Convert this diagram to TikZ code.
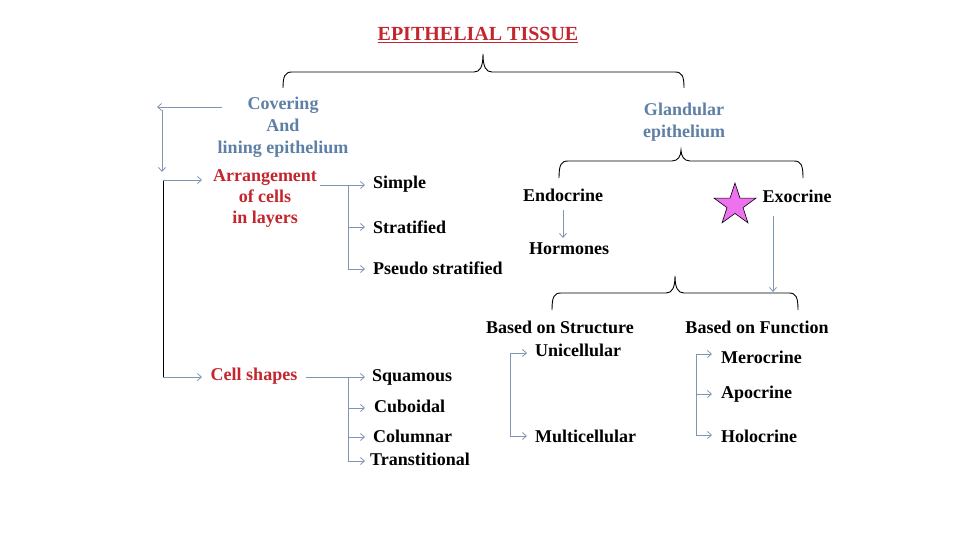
\documentclass[tikz,border=0pt]{standalone}
\usepackage{fontspec}
\setmainfont{Liberation Serif}
\usetikzlibrary{arrows.meta,shapes.geometric}
\definecolor{bluetxt}{HTML}{5F80A6}
\definecolor{arrc}{HTML}{7D97B3}
\definecolor{redtxt}{HTML}{C3262E}
\definecolor{starc}{HTML}{EE72EE}
\newcommand\cbrace[6]{%
 \draw[br] (#1,#4) .. controls (#1,#5+4) and (#1+2,#5) .. (#1+9,#5) -- (#2-9,#5)
  .. controls (#2-3,#5) and (#2,#5-5) .. (#2,#6)
  .. controls (#2,#5-5) and (#2+3,#5) .. (#2+9,#5) -- (#3-9,#5)
  .. controls (#3-2,#5) and (#3,#5+4) .. (#3,#4);}
\begin{document}
\begin{tikzpicture}[x=1pt,y=-1pt,
  txt/.style={font=\fontsize{18}{21}\selectfont\bfseries, inner sep=0pt},
  lt/.style={txt, anchor=west},
  ar/.style={draw=arrc, line width=0.8pt, -{Straight Barb[length=4pt,width=7pt]}},
  ln/.style={draw=arrc, line width=0.8pt},
  br/.style={draw=black, line width=0.9pt}]
\useasboundingbox[fill=white] (0,0) rectangle (960,540);
% texts
\node[txt,text=redtxt,font=\fontsize{20}{22}\selectfont\bfseries] (title) at (478,35) {\underline{EPITHELIAL TISSUE}};
\node[txt,text=bluetxt,align=center,font=\fontsize{18}{22}\selectfont\bfseries] (cov) at (283,127) {Covering\\And\\lining epithelium};
\node[txt,text=bluetxt,align=center,font=\fontsize{18}{22}\selectfont\bfseries] (gla) at (684,122) {Glandular\\epithelium};
\node[txt,text=redtxt,align=center] (arrg) at (265,199) {Arrangement\\of cells\\in layers};
\node[lt] (simple) at (373,184) {Simple};
\node[lt] (strat) at (373,227) {Stratified};
\node[lt] (pseudo) at (373,268) {Pseudo stratified};
\node[txt,text=redtxt] (cells) at (254,376) {Cell shapes};
\node[lt] (squ) at (372,377) {Squamous};
\node[lt] (cub) at (374,406) {Cuboidal};
\node[lt] (col) at (373,436) {Columnar};
\node[lt] (tra) at (370,459) {Transtitional};
\node[txt] (endo) at (563,195) {Endocrine};
\node[txt] (exo) at (797,196) {Exocrine};
\node[star,star points=5,star point ratio=2.6,minimum size=44pt,fill=starc,draw=black,line width=0.6pt,inner sep=0pt] (star) at (735,205) {};
\node[txt] (horm) at (569,249) {Hormones};
\node[txt] (bstr) at (560,327) {Based on Structure};
\node[txt] (bfun) at (757,327) {Based on Function};
\node[lt] (uni) at (535,350) {Unicellular};
\node[lt] (mul) at (535,436) {Multicellular};
\node[lt] (mer) at (721,357) {Merocrine};
\node[lt] (apo) at (721,394) {Apocrine};
\node[lt] (hol) at (721,436) {Holocrine};
% braces
\cbrace{283}{483}{684}{88}{72}{54}
\cbrace{559}{681}{803}{178}{161}{150}
\cbrace{552}{675}{798}{310}{293}{276}
% left side connectors
\coordinate (c1) at (222,107); \coordinate (c2) at (157,107);
\draw[ar] (c1) -- (c2);
\coordinate (v1) at (162,110); \coordinate (v2) at (162,172);
\draw[ar] (v1) -- (v2);
\coordinate (b1) at (163,180); \coordinate (b2) at (163,377);
\coordinate (b1e) at (202,180); \coordinate (b2e) at (202,377);
\draw[br] (b1) -- (b2);
\draw[ar] (b1) -- (b1e);
\draw[ar] (b2) -- (b2e);
% arrangement branch
\coordinate (a0) at (320,185); \coordinate (a1) at (348,185); \coordinate (a2) at (348,227); \coordinate (a3) at (348,269);
\coordinate (a1e) at (365,185); \coordinate (a2e) at (365,227); \coordinate (a3e) at (365,269);
\draw[ar] (a0) -- (a1e);
\draw[ln] (a1) -- (a3);
\draw[ar] (a2) -- (a2e);
\draw[ar] (a3) -- (a3e);
% cell shapes branch
\coordinate (s0) at (306,377); \coordinate (s1) at (348,377); \coordinate (s2) at (348,408); \coordinate (s3) at (348,437); \coordinate (s4) at (348,461);
\coordinate (s1e) at (365,377); \coordinate (s2e) at (365,408); \coordinate (s3e) at (365,437); \coordinate (s4e) at (365,461);
\draw[ar] (s0) -- (s1e);
\draw[ln] (s1) -- (s4);
\draw[ar] (s2) -- (s2e);
\draw[ar] (s3) -- (s3e);
\draw[ar] (s4) -- (s4e);
% glandular connectors
\coordinate (e1) at (563,210); \coordinate (e2) at (563,238);
\draw[ar] (e1) -- (e2);
\coordinate (x1) at (773,216); \coordinate (x2) at (773,292);
\draw[ar] (x1) -- (x2);
% structure branch
\coordinate (u1) at (510,353); \coordinate (u2) at (510,436);
\coordinate (u1e) at (527,353); \coordinate (u2e) at (527,436);
\draw[ln] (u1) -- (u2);
\draw[ar] (u1) -- (u1e);
\draw[ar] (u2) -- (u2e);
% function branch
\coordinate (f1) at (696,354); \coordinate (f2) at (696,394); \coordinate (f3) at (696,435);
\coordinate (f1e) at (712,354); \coordinate (f2e) at (712,394); \coordinate (f3e) at (712,435);
\draw[ln] (f1) -- (f3);
\draw[ar] (f1) -- (f1e);
\draw[ar] (f2) -- (f2e);
\draw[ar] (f3) -- (f3e);
\end{tikzpicture}
\end{document}
